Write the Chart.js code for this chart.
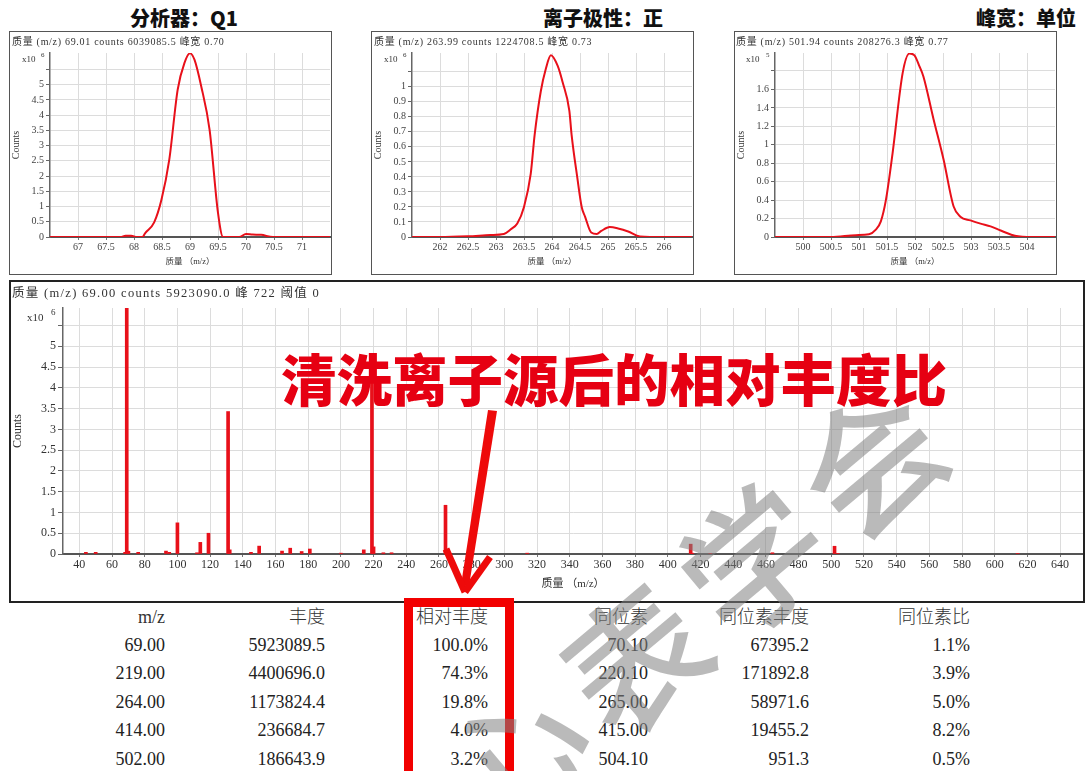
<!DOCTYPE html>
<html><head><meta charset="utf-8">
<script src="https://cdn.jsdelivr.net/npm/chart.js@4.4.1/dist/chart.umd.min.js"></script>
<style>
body{margin:0;background:#fff;width:1086px;height:771px;overflow:hidden;position:relative;font-family:"Liberation Serif","Noto Sans CJK SC",serif;}
.abs{position:absolute;}
.panel{position:absolute;border:1px solid #555;box-sizing:border-box;background:#fff;}
.panel canvas{position:absolute;left:0;top:0;}
.hdr{position:absolute;font-family:"Liberation Serif","Noto Sans CJK SC",serif;font-size:10px;letter-spacing:0.7px;color:#333;white-space:nowrap;line-height:12px;}
.ttl{position:absolute;font-family:"Noto Sans CJK SC",sans-serif;font-weight:900;font-size:20px;color:#111;white-space:nowrap;line-height:20px;}
.cell{position:absolute;width:220px;text-align:right;white-space:nowrap;font-size:18px;line-height:20px;color:#222;font-family:"Liberation Serif","Noto Sans CJK SC",serif;}
.cell.h{color:#333;font-weight:300;}
.exp{position:absolute;font-family:"Liberation Serif",serif;color:#333;white-space:nowrap;}
</style></head><body>
<script>
// ---------------- data ----------------
// Peak 1 (m/z 69)
const peak1Mass   = [66.5, 67.0, 67.5, 67.76, 67.85, 67.95, 68.05, 68.15, 68.2, 68.36, 68.49, 68.63, 68.78, 68.9, 69.0, 69.08, 69.2, 69.35, 69.5, 69.59, 69.77, 69.88, 70.0, 70.12, 70.27, 70.48, 71.0, 71.5];
const peak1Counts = [0, 0, 0, 0, 40000, 40000, 0, 0, 130000, 480000, 1220000, 2540000, 4840000, 5710000, 6030000, 5820000, 4950000, 3520000, 790000, 0, 0, 0, 100000, 80000, 70000, 0, 0, 0];
const peak1XTicks = [67, 67.5, 68, 68.5, 69, 69.5, 70, 70.5, 71];
const peak1XTickLabels = ['67','67.5','68','68.5','69','69.5','70','70.5','71'];
const peak1YTicks = [0,500000,1000000,1500000,2000000,2500000,3000000,3500000,4000000,4500000,5000000,5500000];
const peak1YTickLabels = ['0','0.5','1','1.5','2','2.5','3','3.5','4','4.5','5',''];

// Peak 2 (m/z 264)
const peak2Mass   = [261.5, 262.0, 262.5, 262.9, 263.14, 263.26, 263.38, 263.5, 263.62, 263.69, 263.8, 263.89, 263.98, 264.1, 264.19, 264.31, 264.35, 264.45, 264.53, 264.59, 264.7, 264.8, 264.88, 265.03, 265.18, 265.36, 265.57, 266.0, 266.5];
const peak2Counts = [0, 0, 5000, 13000, 20000, 50000, 90000, 200000, 420000, 680000, 970000, 1120000, 1210000, 1140000, 1030000, 840000, 680000, 400000, 200000, 136000, 30000, 20000, 40000, 66000, 57000, 37000, 4000, 0, 0];
const peak2XTicks = [262, 262.5, 263, 263.5, 264, 264.5, 265, 265.5, 266];
const peak2XTickLabels = ['262','262.5','263','263.5','264','264.5','265','265.5','266'];
const peak2YTicks = [0,100000,200000,300000,400000,500000,600000,700000,800000,900000,1000000,1100000];
const peak2YTickLabels = ['0','0.1','0.2','0.3','0.4','0.5','0.6','0.7','0.8','0.9','1',''];

// Peak 3 (m/z 502)
const peak3Mass   = [499.5, 500.0, 500.5, 500.94, 501.18, 501.3, 501.39, 501.48, 501.6, 501.78, 501.9, 501.99, 502.08, 502.15, 502.33, 502.51, 502.69, 502.81, 502.99, 503.17, 503.35, 503.53, 503.72, 503.84, 504.0, 504.5];
const peak3Counts = [0, 0, 0, 2000, 3000, 8000, 17000, 40000, 91000, 178000, 199000, 197000, 185000, 174000, 128000, 84000, 33000, 22000, 18000, 14500, 11500, 7000, 2500, 700, 0, 0];
const peak3XTicks = [500, 500.5, 501, 501.5, 502, 502.5, 503, 503.5, 504];
const peak3XTickLabels = ['500','500.5','501','501.5','502','502.5','503','503.5','504'];
const peak3YTicks = [0,20000,40000,60000,80000,100000,120000,140000,160000,180000];
const peak3YTickLabels = ['0','0.2','0.4','0.6','0.8','1','1.2','1.4','1.6',''];

// Full spectrum (bars)
const mainMz     = [44, 50, 68, 69, 70, 76, 93, 95, 100, 112, 114, 119, 131, 132, 145, 150, 164, 169, 176, 181, 200, 214, 219, 220, 226, 231, 264, 265, 314, 414, 415, 426, 464, 502, 504, 614];
const mainCounts = [40000, 40000, 40000, 5923090, 67395, 40000, 70000, 40000, 750000, 30000, 280000, 500000, 3430000, 100000, 40000, 190000, 70000, 140000, 60000, 120000, 20000, 100000, 4400696, 171893, 30000, 30000, 1173824, 58972, 20000, 236685, 19455, 10000, 30000, 186644, 951, 10000];
const mainXTicks = [40,60,80,100,120,140,160,180,200,220,240,260,280,300,320,340,360,380,400,420,440,460,480,500,520,540,560,580,600,620,640];
const mainXTickLabels = ['40','60','80','100','120','140','160','180','200','220','240','260','280','300','320','340','360','380','400','420','440','460','480','500','520','540','560','580','600','620','640'];
const mainYTicks = [0,500000,1000000,1500000,2000000,2500000,3000000,3500000,4000000,4500000,5000000,5500000];
const mainYTickLabels = ['0','0.5','1','1.5','2','2.5','3','3.5','4','4.5','5',''];

// Table
const tableHeaders  = ['m/z','丰度','相对丰度','同位素','同位素丰度','同位素比'];
const tableMz       = ['69.00','219.00','264.00','414.00','502.00'];
const tableAbund    = ['5923089.5','4400696.0','1173824.4','236684.7','186643.9'];
const tableRel      = ['100.0%','74.3%','19.8%','4.0%','3.2%'];
const tableIso      = ['70.10','220.10','265.00','415.00','504.10'];
const tableIsoAbund = ['67395.2','171892.8','58971.6','19455.2','951.3'];
const tableIsoRatio = ['1.1%','3.9%','5.0%','8.2%','0.5%'];
</script>

<div class="ttl" style="left:130px;top:8px;">分析器：Q1</div>
<div class="ttl" style="left:543px;top:8px;">离子极性：正</div>
<div class="ttl" style="left:976px;top:8px;">峰宽：单位</div>

<div class="panel" style="left:9px;top:31px;width:323px;height:244px;"><canvas id="p1" width="321" height="242"></canvas></div>
<div class="panel" style="left:371px;top:31px;width:323px;height:244px;"><canvas id="p2" width="321" height="242"></canvas></div>
<div class="panel" style="left:734px;top:31px;width:323px;height:244px;"><canvas id="p3" width="321" height="242"></canvas></div>

<div class="hdr" style="left:12px;top:36px;">质量 (m/z) 69.01 counts 6039085.5 峰宽 0.70</div>
<div class="hdr" style="left:374px;top:36px;">质量 (m/z) 263.99 counts 1224708.5 峰宽 0.73</div>
<div class="hdr" style="left:736px;top:36px;">质量 (m/z) 501.94 counts 208276.3 峰宽 0.77</div>

<div class="exp" style="left:22px;top:54px;font-size:9px;">x10</div><div class="exp" style="left:41px;top:51px;font-size:7px;">6</div>
<div class="exp" style="left:384px;top:54px;font-size:9px;">x10</div><div class="exp" style="left:403px;top:51px;font-size:7px;">6</div>
<div class="exp" style="left:746px;top:54px;font-size:9px;">x10</div><div class="exp" style="left:766px;top:51px;font-size:7px;">5</div>

<div class="abs" style="left:9px;top:280px;width:1076px;height:323px;border:2px solid #222;box-sizing:border-box;background:#fff;"><canvas id="main" width="1072" height="319" style="position:absolute;left:0;top:0;"></canvas></div>
<div class="hdr" style="left:12px;top:286px;font-size:12.5px;letter-spacing:1.3px;line-height:15px;">质量 (m/z) 69.00 counts 5923090.0 峰 722 阈值 0</div>
<div class="exp" style="left:27px;top:311px;font-size:11px;">x10</div><div class="exp" style="left:51px;top:307px;font-size:9px;">6</div>

<div class="abs" style="left:281px;top:349px;font-family:'Noto Sans CJK SC',sans-serif;font-weight:900;font-size:55.5px;line-height:56px;color:#e60012;white-space:nowrap;">清洗离子源后的相对丰度比</div>

<div id="table"></div>

<svg class="abs" style="left:0;top:0;" width="1086" height="771">
  <polygon points="488,410 497,411 469,586 461,585" fill="#ee0a0a"/>
  <line x1="446" y1="549" x2="465" y2="592" stroke="#ee0a0a" stroke-width="7"/>
  <line x1="490" y1="557" x2="465" y2="592" stroke="#ee0a0a" stroke-width="7"/>
  <rect x="408.5" y="602.5" width="101" height="180" fill="none" stroke="#f20000" stroke-width="9"/>
</svg>

<div class="abs" style="left:695px;top:600px;transform:translate(-50%,-50%) rotate(-40deg);font-family:'Noto Sans CJK SC',sans-serif;font-weight:500;font-size:140px;line-height:150px;letter-spacing:14px;color:rgba(130,130,130,0.55);white-space:nowrap;">心表学会</div>

<script>
const FAM = "'Liberation Serif', 'Noto Sans CJK SC', serif";
function peakChart(id, mass, counts, xMin, xMax, yMax, xT, xL, yT, yL) {
  return new Chart(document.getElementById(id), {
    type: 'line',
    data: { datasets: [{ data: mass.map((m, i) => ({ x: m, y: counts[i] })), borderColor: '#e8101a', borderWidth: 2, pointRadius: 0, fill: false, cubicInterpolationMode: 'monotone' }] },
    options: {
      responsive: false, animation: false, devicePixelRatio: 1,
      layout: { padding: { top: 21, right: 1, left: 0, bottom: 0 } },
      plugins: { legend: { display: false }, tooltip: { enabled: false } },
      scales: {
        x: {
          type: 'linear', min: xMin, max: xMax,
          afterBuildTicks: s => { s.ticks = xT.map(v => ({ value: v })); },
          afterFit: s => { s.height = 37; },
          ticks: { callback: (v, i) => xL[i], autoSkip: false, maxRotation: 0, font: { family: FAM, size: 10 }, color: '#444', padding: 1 },
          grid: { color: '#dcdcdc', lineWidth: 1, drawTicks: true, tickLength: 3, tickColor: '#777' },
          border: { display: true, color: '#555', width: 2 },
          title: { display: true, text: '质量 （m/z）', font: { family: FAM, size: 8.5 }, color: '#333', padding: { top: 0, bottom: 7 } }
        },
        y: {
          type: 'linear', min: 0, max: yMax,
          afterBuildTicks: s => { s.ticks = yT.map(v => ({ value: v })); },
          afterFit: s => { s.width = 40; },
          ticks: { callback: (v, i) => yL[i], autoSkip: false, font: { family: FAM, size: 10 }, color: '#444', padding: 2 },
          grid: { color: '#dcdcdc', lineWidth: 1, drawTicks: true, tickLength: 4, tickColor: '#666' },
          border: { display: true, color: '#666', width: 1.5 },
          title: { display: true, text: 'Counts', font: { family: FAM, size: 10 }, color: '#333', padding: { top: 0, bottom: 0 } }
        }
      }
    }
  });
}
peakChart('p1', peak1Mass, peak1Counts, 66.5, 71.5, 6040000, peak1XTicks, peak1XTickLabels, peak1YTicks, peak1YTickLabels);
peakChart('p2', peak2Mass, peak2Counts, 261.5, 266.5, 1224708, peak2XTicks, peak2XTickLabels, peak2YTicks, peak2YTickLabels);
peakChart('p3', peak3Mass, peak3Counts, 499.5, 504.5, 199500, peak3XTicks, peak3XTickLabels, peak3YTicks, peak3YTickLabels);

new Chart(document.getElementById('main'), {
  type: 'bar',
  data: { datasets: [{ data: mainMz.map((m, i) => ({ x: m, y: mainCounts[i] })), backgroundColor: '#e8101a', borderWidth: 0, barThickness: 3 }] },
  options: {
    responsive: false, animation: false, devicePixelRatio: 1,
    layout: { padding: { top: 26, right: 0, left: 0, bottom: 0 } },
    plugins: { legend: { display: false }, tooltip: { enabled: false } },
    scales: {
      x: {
        type: 'linear', min: 30, max: 654, offset: false,
        afterBuildTicks: s => { s.ticks = mainXTicks.map(v => ({ value: v })); },
        afterFit: s => { s.height = 47; },
        ticks: { callback: (v, i) => mainXTickLabels[i], autoSkip: false, maxRotation: 0, font: { family: FAM, size: 12 }, color: '#333', padding: 1 },
        grid: { color: '#dcdcdc', lineWidth: 1, offset: false, drawTicks: true, tickLength: 3, tickColor: '#777' },
        border: { display: true, color: '#555', width: 2 },
        title: { display: true, text: '质量 （m/z）', font: { family: FAM, size: 11 }, color: '#333', padding: { top: 0, bottom: 10 } }
      },
      y: {
        type: 'linear', min: 0, max: 5923090,
        afterBuildTicks: s => { s.ticks = mainYTicks.map(v => ({ value: v })); },
        afterFit: s => { s.width = 52; },
        ticks: { callback: (v, i) => mainYTickLabels[i], autoSkip: false, font: { family: FAM, size: 12 }, color: '#333', padding: 2 },
        grid: { color: '#dcdcdc', lineWidth: 1, drawTicks: true, tickLength: 5, tickColor: '#666' },
        border: { display: true, color: '#666', width: 1.5 },
        title: { display: true, text: 'Counts', font: { family: FAM, size: 12 }, color: '#333', padding: { top: 0, bottom: 0 } }
      }
    }
  }
});

// table
const colRight = [165, 325, 488, 648, 809, 970];
const cols = [tableMz, tableAbund, tableRel, tableIso, tableIsoAbund, tableIsoRatio];
const tbl = document.getElementById('table');
function addCell(text, right, yc, cls) {
  const d = document.createElement('div');
  d.className = 'cell' + (cls ? ' ' + cls : '');
  d.style.left = (right - 220) + 'px';
  d.style.top = (yc - 10) + 'px';
  d.textContent = text;
  tbl.appendChild(d);
}
tableHeaders.forEach((h, c) => addCell(h, colRight[c], 617, 'h'));
cols.forEach((col, c) => col.forEach((v, r) => addCell(v, colRight[c], 645 + r * 28.4)));
</script>
</body></html>
